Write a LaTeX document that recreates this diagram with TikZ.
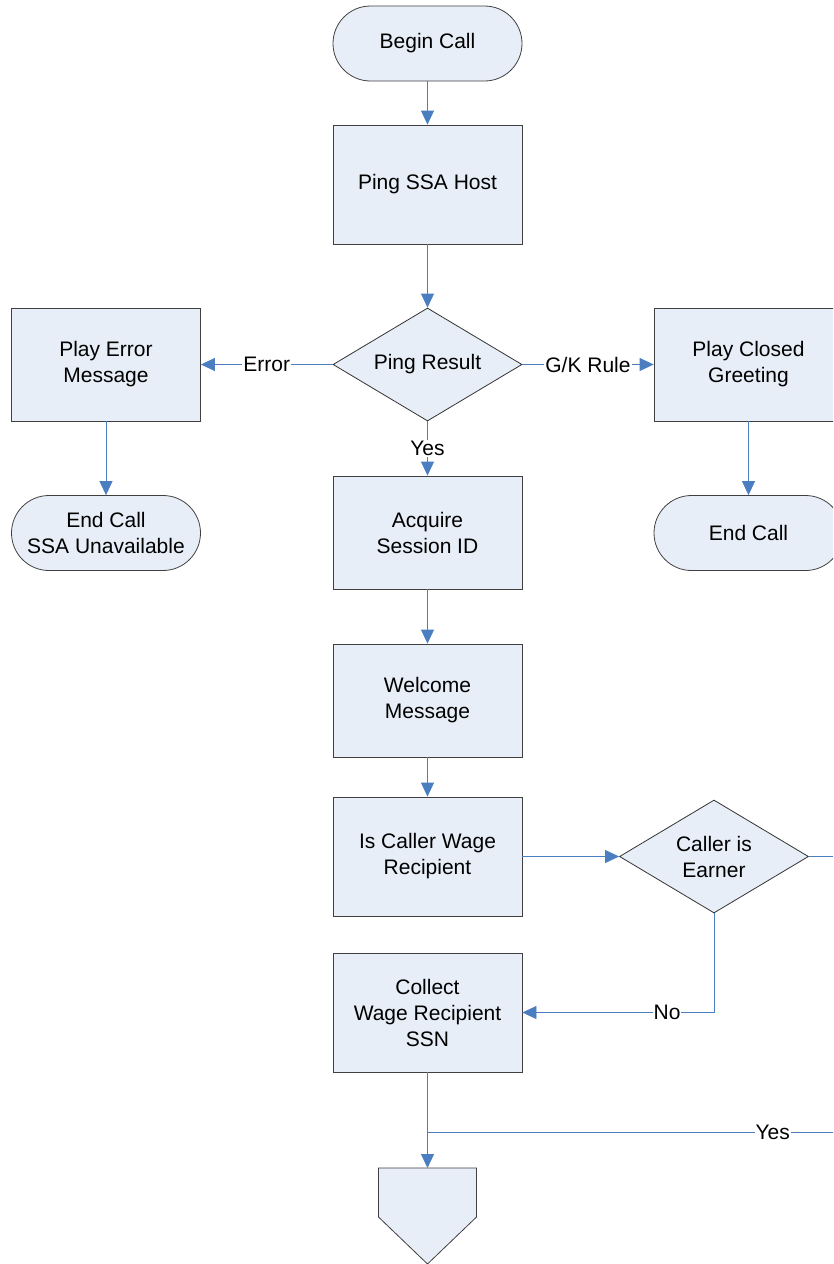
\documentclass[tikz,border=0pt]{standalone}
\usepackage{fontspec}
\setmainfont{Liberation Sans}
\usetikzlibrary{arrows.meta,shapes.geometric}
\definecolor{fillb}{RGB}{232,238,247}
\definecolor{lineb}{RGB}{74,126,193}
\begin{document}
\begin{tikzpicture}[x=1pt,y=-1pt,
  font=\fontsize{21}{26}\selectfont,
  box/.style={draw=black!75, line width=0.8pt, fill=fillb, minimum width=189pt, minimum height=119pt, align=center, inner sep=0pt},
  term/.style={box, rounded corners=37.5pt, minimum height=75pt},
  dec/.style={draw=black!80, line width=0.8pt, fill=fillb, diamond, aspect=1.67, minimum width=189pt, minimum height=113pt, align=center, inner sep=0pt},
  conn/.style={draw=lineb, line width=0.8pt},
  flow/.style={conn, -{Triangle[length=14pt,width=13pt]}},
  lab/.style={fill=white, inner sep=1pt, text=black}]
\useasboundingbox (0,0) rectangle (833,1264);
\clip (0,0) rectangle (833,1264);

\node[term] (begin) at (427.5,43.5) {Begin Call};
\node[box] (ping) at (427.5,184.5) {Ping SSA Host};
\node[dec] (pres) at (427.5,364.5) {Ping Result};
\node[box, minimum height=113pt] (err) at (106,364.5) {Play Error\\Message};
\node[box, minimum height=113pt] (closed) at (748.5,364.5) {Play Closed\\Greeting};
\node[term] (endssa) at (106,533) {End Call\\SSA Unavailable};
\node[term] (endc) at (748.5,533) {End Call};
\node[box, minimum height=113pt] (acq) at (427.5,532.5) {Acquire\\Session ID};
\node[box, minimum height=113pt] (wel) at (427.5,700.5) {Welcome\\Message};
\node[box] (iscaller) at (427.5,856.5) {Is Caller Wage\\Recipient};
\node[dec] (earner) at (714,856.5) {Caller is\\Earner};
\node[box] (collect) at (427.5,1012.5) {Collect\\Wage Recipient\\SSN};
\coordinate (opc) at (427.5,1168);
\coordinate (rout) at (840,856.5);
\coordinate (rin) at (840,1132.5);
\coordinate (join) at (427.5,1132.5);

\filldraw[draw=black!75, line width=0.8pt, fill=fillb]
  (378.5,1168) -- (476.5,1168) -- (476.5,1217) -- (427.5,1264) -- (378.5,1217) -- cycle;

\draw[flow] (begin) -- (ping);
\draw[flow] (ping) -- (pres);
\draw[flow] (pres) -- node[lab]{Error} (err);
\draw[flow] (pres) -- node[lab]{G/K Rule} (closed);
\draw[flow] (pres) -- node[lab]{Yes} (acq);
\draw[flow] (err) -- (endssa);
\draw[flow] (closed) -- (endc);
\draw[flow] (acq) -- (wel);
\draw[flow] (wel) -- (iscaller);
\draw[flow] (iscaller) -- (earner);
\draw[conn] (earner.east) -- (rout);
\draw[flow] (earner.south) -- (earner.south |- collect.east) -- node[lab,pos=0.245]{No} (collect.east);
\draw[flow] (collect) -- (opc);
\draw[conn] (rin) -- node[lab,pos=0.163]{Yes} (join);
\end{tikzpicture}
\end{document}
